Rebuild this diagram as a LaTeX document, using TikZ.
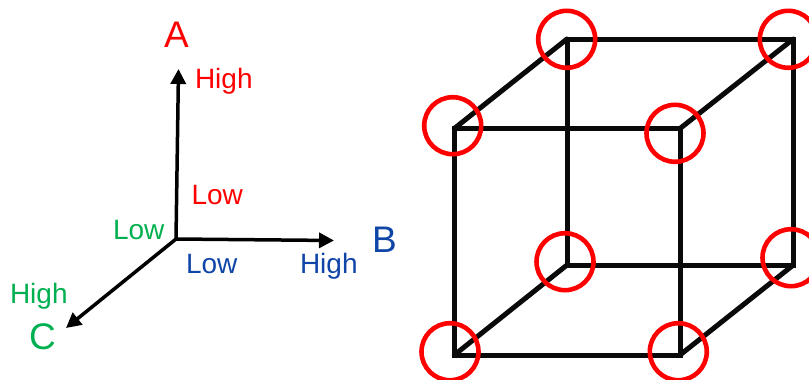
\documentclass[tikz,border=0pt]{standalone}
\usepackage{fontspec}
\setmainfont{Liberation Sans}
\usetikzlibrary{arrows.meta}
\definecolor{axred}{HTML}{FF0000}
\definecolor{axblue}{HTML}{1045A8}
\definecolor{axgreen}{HTML}{00B050}
\definecolor{cubeblack}{HTML}{0A0A0A}
\tikzset{
  lbl/.style={inner sep=0pt,outer sep=0pt,anchor=base west,font=\fontsize{28}{28}\selectfont},
  axname/.style={inner sep=0pt,outer sep=0pt,anchor=base west,font=\fontsize{37}{37}\selectfont},
  axis/.style={draw=black,line width=3.5pt,-{Triangle[length=15pt,width=15pt]}},
  edge/.style={draw=cubeblack,line width=5pt,line cap=round},
  ring/.style={circle,draw=axred,line width=4.6pt,minimum size=57pt,inner sep=0pt,outer sep=0pt}
}
\begin{document}
\begin{tikzpicture}[x=1pt,y=-1pt]
\useasboundingbox (0,0) rectangle (809,380);
% axes
\coordinate (O) at (176,239);
\coordinate (Atip) at (178.5,69);
\coordinate (Btip) at (334,240.5);
\coordinate (Ctip) at (66,328);
\draw[axis] (O) -- (Atip);
\draw[axis] (O) -- (Btip);
\draw[axis] (O) -- (Ctip);
\node[axname,text=axred] (nA) at (164,47) {A};
\node[axname,text=axblue] (nB) at (372,252) {B};
\node[axname,text=axgreen] (nC) at (29,349) {C};
\node[lbl,text=axred] (ahigh) at (195,88) {High};
\node[lbl,text=axred] (alow) at (191.5,204) {Low};
\node[lbl,text=axgreen] (clow) at (113,239) {Low};
\node[lbl,text=axgreen] (chigh) at (10,303) {High};
\node[lbl,text=axblue] (blow) at (186,273) {Low};
\node[lbl,text=axblue] (bhigh) at (300,273) {High};
% cube
\coordinate (ftl) at (454.3,128.5);
\coordinate (ftr) at (680,128.5);
\coordinate (fbl) at (454.3,355);
\coordinate (fbr) at (680,355);
\coordinate (btl) at (567,39);
\coordinate (btr) at (793.3,39);
\coordinate (bbl) at (567,265);
\coordinate (bbr) at (793.3,265);
\draw[edge] (btl) -- (btr) -- (bbr) -- (bbl) -- cycle;
\draw[edge] (ftl) -- (ftr) -- (fbr) -- (fbl) -- cycle;
\draw[edge] (ftl) -- (btl);
\draw[edge] (ftr) -- (btr);
\draw[edge] (fbl) -- (bbl);
\draw[edge] (fbr) -- (bbr);
% rings
\node[ring] (r1) at (452.7,125.7) {};
\node[ring] (r2) at (566.7,39.3) {};
\node[ring] (r3) at (788.3,39.3) {};
\node[ring] (r4) at (675,133.3) {};
\node[ring] (r5) at (565,261.7) {};
\node[ring] (r6) at (791,257.7) {};
\node[ring] (r7) at (450,351.7) {};
\node[ring] (r8) at (678.3,351.7) {};
\end{tikzpicture}
\end{document}
